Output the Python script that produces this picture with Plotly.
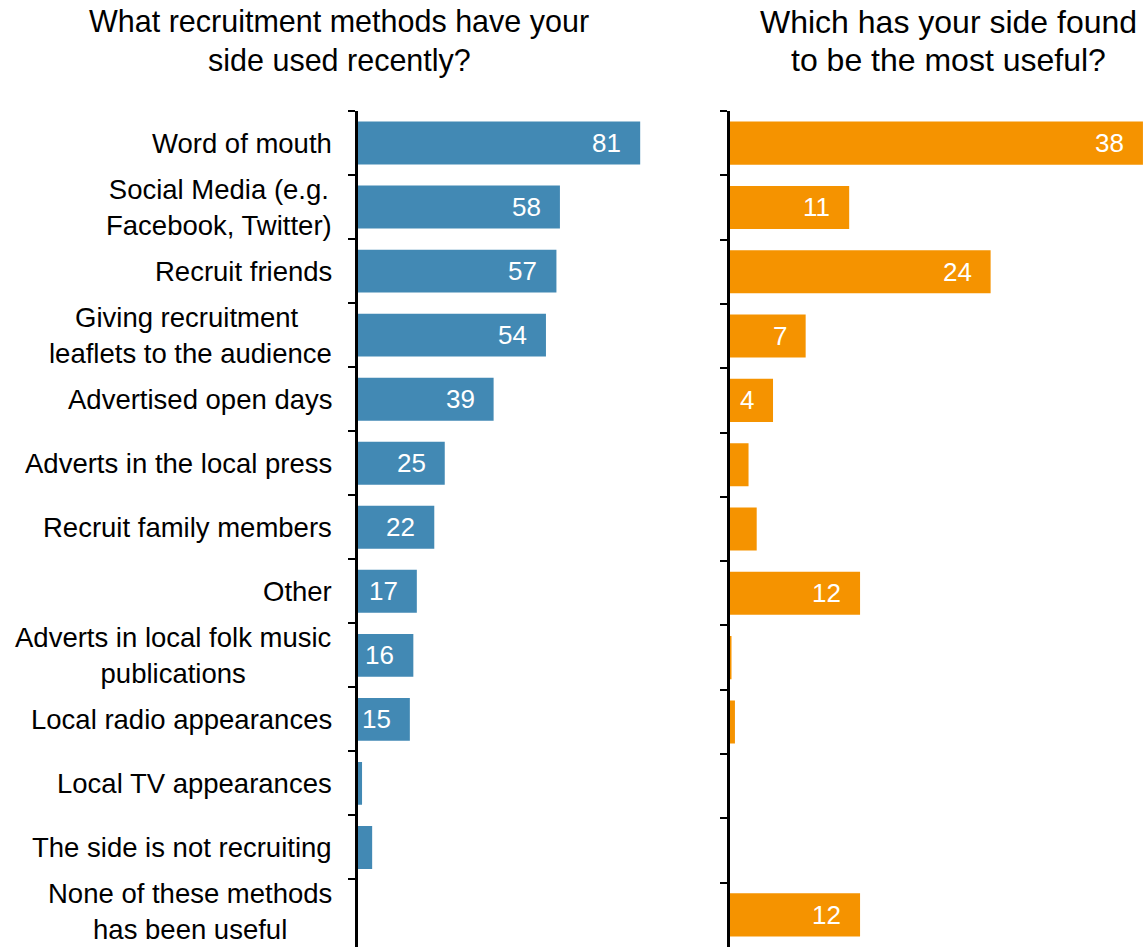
import plotly.graph_objects as go

# Survey categories, top to bottom
categories = [
    "Word of mouth",
    "Social Media (e.g.<br>Facebook, Twitter)",
    "Recruit friends",
    "Giving recruitment <br>leaflets to the audience",
    "Advertised open days",
    "Adverts in the local press",
    "Recruit family members",
    "Other",
    "Adverts in local folk music<br>publications",
    "Local radio appearances",
    "Local TV appearances",
    "The side is not recruiting",
    "None of these methods<br>has been useful",
]

# Methods used recently
used_values = [81, 58, 57, 54, 39, 25, 22, 17, 16, 15, 1.3, 4.2, 0]
# Method found most useful
useful_values = [38, 11, 24, 7, 4, 1.75, 2.5, 12, 0.15, 0.5, 0, 0, 12]

left_title_lines = ["What recruitment methods have your", "side used recently?"]
right_title_lines = ["Which has your side found", "to be the most useful?"]

BLUE = "#4289b4"
ORANGE = "#f59300"
FONT = "Liberation Sans, Arial, sans-serif"

W, H = 1147, 951
y_top_px, y_bot_px = 111, 947
left_x0_px, right_x0_px = 357.5, 729.5

fig = go.Figure()
fig.add_trace(go.Bar(x=used_values, y=categories, orientation="h",
                     marker=dict(color=BLUE, line=dict(width=0)),
                     xaxis="x", yaxis="y", hoverinfo="x+y"))
fig.add_trace(go.Bar(x=useful_values, y=categories, orientation="h",
                     marker=dict(color=ORANGE, line=dict(width=0)),
                     xaxis="x2", yaxis="y2", hoverinfo="x+y"))

ydom = [1 - y_bot_px / H, 1 - y_top_px / H]
yax = dict(domain=ydom, type="category", autorange="reversed",
           showline=True, linecolor="black", linewidth=2.5,
           ticks="outside", ticklen=7, tickwidth=2, tickcolor="black",
           tickson="boundaries", showticklabels=False,
           showgrid=False, zeroline=False)

left_end = 0.6
right_end = 1.0
left_px_per_unit = 3.49
right_px_per_unit = 10.88
left_range = (left_end * W - left_x0_px) / left_px_per_unit
right_range = (right_end * W - right_x0_px) / right_px_per_unit

xax = dict(showline=False, showticklabels=False, showgrid=False,
           zeroline=False, ticks="")

fig.update_layout(
    width=W, height=H,
    margin=dict(l=0, r=0, t=0, b=0),
    paper_bgcolor="white", plot_bgcolor="white",
    showlegend=False,
    bargap=0.33,
    font=dict(family=FONT, color="black"),
    xaxis=dict(xax, domain=[left_x0_px / W, left_end], range=[0, left_range], anchor="y"),
    yaxis=dict(yax, anchor="x"),
    xaxis2=dict(xax, domain=[right_x0_px / W, right_end], range=[0, right_range], anchor="y2"),
    yaxis2=dict(yax, anchor="x2"),
)

annotations = []

# Category labels, centred lines right-aligned against the left axis
for cat in categories:
    annotations.append(dict(
        x=334 / W, y=cat, xref="paper", yref="y",
        text=cat, showarrow=False, xanchor="right", yanchor="middle",
        align="center", font=dict(size=27.5, family=FONT, color="black"),
    ))

# Value labels inside the bar ends
for cat, v in zip(categories, used_values):
    if v >= 10:
        annotations.append(dict(
            x=v, y=cat, xref="x", yref="y", text=str(v), showarrow=False,
            xanchor="right", yanchor="middle", xshift=-17,
            font=dict(size=26, family=FONT, color="white"),
        ))
for cat, v in zip(categories, useful_values):
    if v >= 4:
        annotations.append(dict(
            x=v, y=cat, xref="x2", yref="y2", text=str(v), showarrow=False,
            xanchor="right", yanchor="middle", xshift=-17,
            font=dict(size=26, family=FONT, color="white"),
        ))

# Panel headings, one annotation per line
title_line_centres_px = [22, 60]
for lines, cx, size in [(left_title_lines, 339, 30.5), (right_title_lines, 948, 32)]:
    for line, cy in zip(lines, title_line_centres_px):
        annotations.append(dict(x=cx / W, y=1 - cy / H, xref="paper", yref="paper",
                                text=line, showarrow=False, xanchor="center",
                                yanchor="middle",
                                font=dict(size=size, family=FONT, color="black")))

fig.update_layout(annotations=annotations)
fig.write_html("out.html")
